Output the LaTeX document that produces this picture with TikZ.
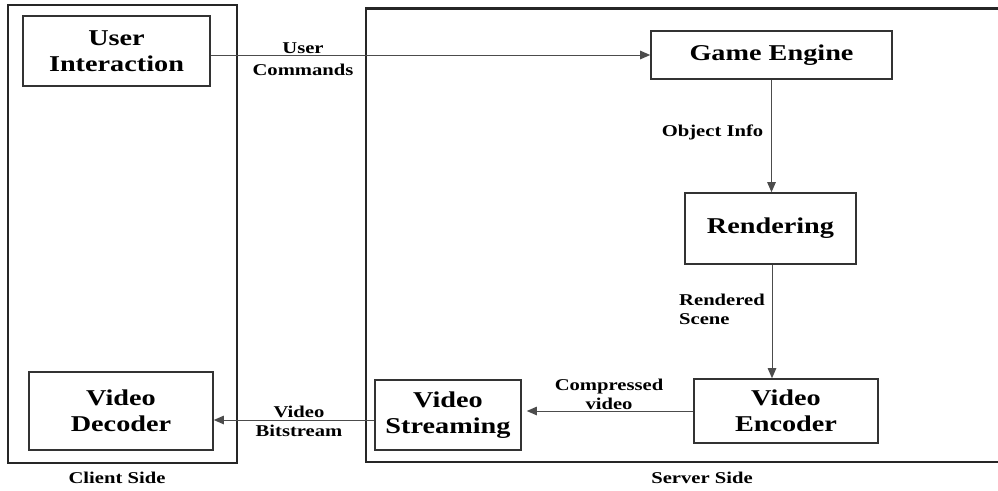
\documentclass[tikz,border=0pt]{standalone}
\usepackage{fontspec}
\setmainfont{Liberation Serif}[FakeStretch=1.25]
\usetikzlibrary{arrows.meta}
\tikzset{
  box/.style={draw=black!80, line width=1.6pt, inner sep=0pt, align=center,
    font=\fontsize{22.6}{26}\selectfont\bfseries},
  frame/.style={draw=black!85, line width=2.3pt},
  flow/.style={draw=black!70, line width=1pt, -{Triangle[length=10pt,width=8.5pt]}},
  lbl/.style={inner sep=0pt, align=center, font=\fontsize{16.5}{19}\selectfont\bfseries},
}
\begin{document}
\begin{tikzpicture}[x=1pt, y=-1pt]
      \useasboundingbox (0,0) rectangle (998,490);
      \draw[frame] (8,5) rectangle (237,463);
      \draw[frame] (999,8.5) -- (366,8.5) -- (366,462) -- (999,462);
      \node[box, minimum width=187pt, minimum height=70pt] (ui) at (116.5,51) {User\\Interaction};
      \node[box, minimum width=241pt, minimum height=48pt] (engine) at (771.5,55) {Game Engine};
      \node[box, minimum width=171pt, minimum height=71pt] (render) at (770.5,228.5) {Rendering};
      \node[box, minimum width=184pt, minimum height=64pt] (encoder) at (786,411) {Video\\Encoder};
      \node[box, minimum width=146pt, minimum height=70pt] (stream) at (448,415) {Video\\Streaming};
      \node[box, minimum width=184pt, minimum height=78pt] (decoder) at (121,411) {Video\\Decoder};
      \node[lbl, font=\fontsize{16.5}{22}\selectfont\bfseries] (cmd) at (303,59) {User\\Commands};
      \node[lbl] (info) at (712.5,132) {Object Info};
      \node[lbl, anchor=west, align=left] (scene) at (679,309) {Rendered\\Scene};
      \node[lbl] (comp) at (609,394) {Compressed\\video};
      \node[lbl] (bits) at (299,421) {Video\\Bitstream};
      \node[lbl] (client) at (117,478) {Client Side};
      \node[lbl] (server) at (702,478) {Server Side};
      \begin{scope}[flow]
        \draw (ui.east |- engine.west) -- (engine.west);
        \draw (engine.south) -- (engine.south |- render.north);
        \draw ([xshift=1.5pt]render.south) -- ([xshift=1.5pt]render.south |- encoder.north);
        \draw[shorten >=5pt] (encoder.west) -- (encoder.west -| stream.east);
        \draw ([yshift=-5pt]stream.west) -- ([yshift=-5pt]stream.west -| decoder.east);
      \end{scope}
    \end{tikzpicture}
\end{document}
